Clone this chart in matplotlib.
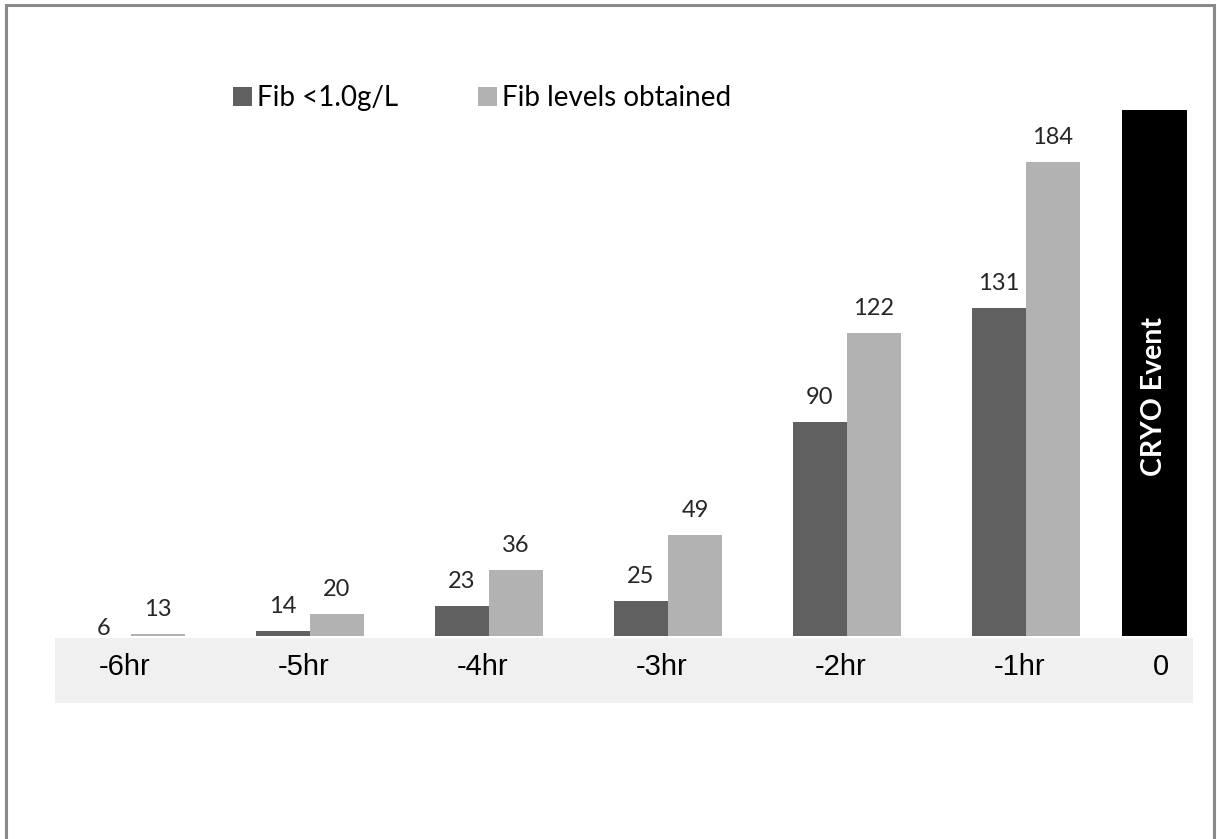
import matplotlib
matplotlib.use("Agg")
import matplotlib.pyplot as plt
from matplotlib.patches import Rectangle, Patch

# ---- data ----
categories = ["-6hr", "-5hr", "-4hr", "-3hr", "-2hr", "-1hr"]
fib_low = [6, 14, 23, 25, 90, 131]
fib_obtained = [13, 20, 36, 49, 122, 184]
event_label = "0"
event_text = "CRYO Event"
event_value = [203]
series_names = ["Fib <1.0g/L", "Fib levels obtained"]

DARK = "#606060"
LIGHT = "#b2b2b2"
BAND = "#f0f0f0"

W, H = 1217, 839
fig = plt.figure(figsize=(W / 100, H / 100), dpi=100)
fig.patch.set_facecolor("white")

# category band (drawn behind everything)
x0, x1 = 55, 1193
band_top, band_bot = 638, 703
fig.patches.append(Rectangle((x0 / W, 1 - band_bot / H), (x1 - x0) / W, (band_bot - band_top) / H,
                             transform=fig.transFigure, facecolor=BAND, edgecolor="none", zorder=-5))

# axes in pixel geometry
ytop, ybot = 110, 636
ax = fig.add_axes([x0 / W, 1 - ybot / H, (x1 - x0) / W, (ybot - ytop) / H])
ax.set_facecolor("none")
for s in ax.spines.values():
    s.set_visible(False)

px_per_unit = 179.0
ymin, ymax = 12.2, 203
ax.set_xlim(-(131 - x0) / px_per_unit, (x1 - 131) / px_per_unit)
ax.set_ylim(ymin, ymax)

bw = 54 / px_per_unit
pos = list(range(len(categories)))
b1 = ax.bar([p - bw / 2 for p in pos], fib_low, width=bw, color=DARK)
b2 = ax.bar([p + bw / 2 for p in pos], fib_obtained, width=bw, color=LIGHT)

ev_x = (1154.5 - 131) / px_per_unit
ev_w = 65 / px_per_unit
ax.bar([ev_x], event_value, width=ev_w, color="black")

lab_font = "Lato"
for bars, vals in ((b1, fib_low), (b2, fib_obtained)):
    for r, v in zip(bars, vals):
        ax.annotate(str(v), (r.get_x() + r.get_width() / 2, v),
                    xytext=(0, 18), textcoords="offset pixels",
                    ha="center", va="baseline", fontsize=17, family=lab_font,
                    color="#262626", annotation_clip=False)

# CRYO Event text (centre at about y=397 px)
ax.text(ev_x, 1 - (397 - ytop) / (ybot - ytop), event_text,
        transform=ax.get_xaxis_transform(), rotation=90, ha="center", va="center",
        color="white", fontsize=20.5, fontweight="bold", family=lab_font)

# tick labels (slightly offset like the source)
shift = 6 / px_per_unit
ax.set_xticks([p - shift for p in pos] + [ev_x + shift])
ax.set_xticklabels(categories + [event_label])
ax.tick_params(axis="x", length=0, pad=12, labelsize=21, labelcolor="black")
for t in ax.get_xticklabels():
    t.set_family("Liberation Sans")
ax.set_yticks([])

# legend
handles = [Patch(facecolor=DARK), Patch(facecolor=LIGHT)]
fig.legend(handles, series_names, loc="center left",
           bbox_to_anchor=(233 / W, 1 - 98 / H), ncol=2, frameon=False,
           borderpad=0, borderaxespad=0, handlelength=0.68, handleheight=0.68,
           handletextpad=0.2, columnspacing=2.85,
           prop={"family": lab_font, "size": 20})

# outer frame
fig.patches.append(Rectangle((6 / W, -0.05), (1214 - 6) / W, 1.05 - 5 / H,
                             transform=fig.transFigure, facecolor="none",
                             edgecolor="#8a8a8a", linewidth=2.2, zorder=5))

fig.savefig("out.png", dpi=100)
